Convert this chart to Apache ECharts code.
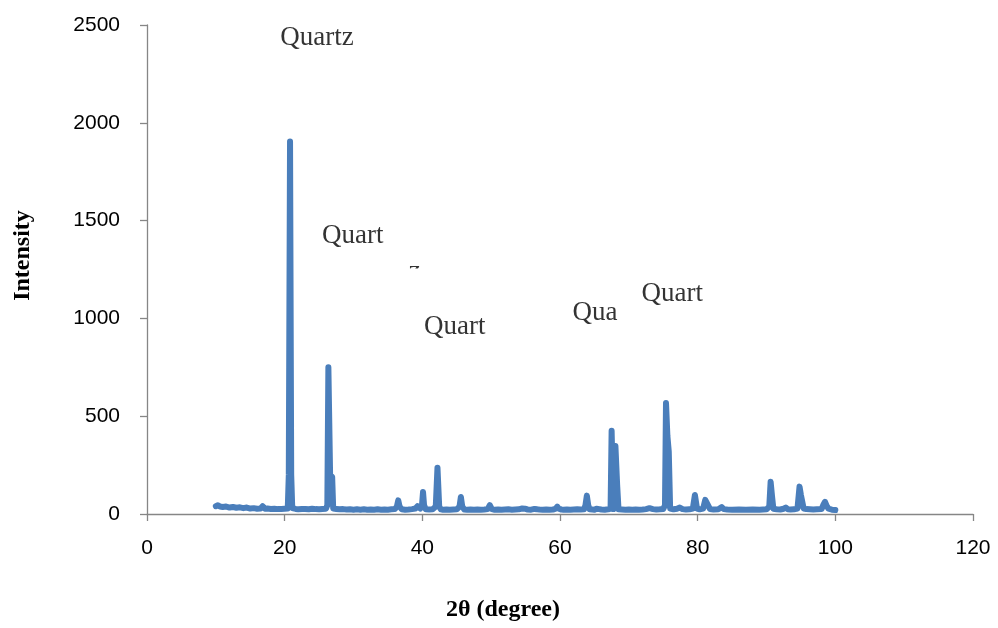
<!DOCTYPE html>
<html>
<head>
<meta charset="utf-8">
<style>
html,body{margin:0;padding:0;background:#fff;}
#chart{width:998px;height:628px;}
</style>
<script src="https://cdn.jsdelivr.net/npm/echarts@6/dist/echarts.min.js"></script>
</head>
<body>
<div id="chart"></div>
<script>
// 2θ positions (degree)
var twoTheta = [
10.0,10.3,10.6,11.0,11.5,12.0,12.5,13.0,13.5,14.0,14.5,15.0,15.5,16.0,16.5,16.8,17.1,17.5,18.0,18.5,19.0,19.5,20.0,
20.45,20.6,20.78,20.95,21.1,21.6,22.0,22.5,23.0,23.5,24.0,24.5,25.0,25.5,26.0,
26.2,26.35,26.6,26.9,27.05,27.5,28.0,28.5,29.0,29.5,30.0,30.5,31.0,31.5,32.0,32.5,33.0,33.5,34.0,34.5,35.0,35.5,36.0,
36.3,36.5,36.7,37.0,37.5,38.0,38.5,39.0,39.3,39.5,39.7,39.95,40.1,40.25,40.5,41.0,41.5,41.95,42.2,42.45,42.7,43.0,43.5,44.0,44.5,45.0,
45.4,45.6,45.8,46.1,46.5,47.0,47.5,48.0,48.5,49.0,49.5,49.8,50.1,50.5,51.0,51.5,52.0,52.5,53.0,53.5,54.0,54.5,54.7,54.9,55.3,55.8,56.3,56.7,
57.0,57.5,58.0,58.5,59.0,59.4,59.6,59.8,60.2,60.5,61.0,61.5,62.0,62.5,63.0,63.5,63.7,63.9,64.1,64.3,64.7,65.0,65.3,65.5,65.7,66.0,66.5,67.0,
67.35,67.5,67.75,68.05,68.3,68.5,69.0,69.5,70.0,70.5,71.0,71.5,72.0,72.5,73.0,73.2,73.5,74.0,74.5,75.0,75.25,75.4,75.6,75.8,76.0,76.5,77.0,
77.4,77.8,78.3,78.8,79.3,79.6,79.9,80.3,80.8,81.1,81.3,81.5,81.8,82.3,83.0,83.5,83.8,84.3,85.0,86.0,87.0,88.0,89.0,90.0,90.4,90.6,90.8,91.0,
91.5,92.0,92.5,92.8,93.1,93.5,94.0,94.5,94.8,95.0,95.2,95.4,95.8,96.3,96.8,97.3,98.0,98.3,98.5,98.7,99.0,99.5,100.0
];
// Intensity values
var intensity = [
40,45,38,36,38,33,36,32,34,30,33,28,30,27,28,40,27,28,26,27,25,26,27,
28,200,1905,200,30,26,24,25,26,24,27,25,24,26,27,
45,750,200,190,28,26,24,25,23,24,22,24,22,24,22,23,22,24,22,23,22,24,25,
38,70,38,24,22,23,25,28,40,42,28,45,112,45,24,23,24,38,237,38,24,22,23,22,23,24,
38,87,38,23,22,23,22,23,22,23,25,45,25,22,23,22,23,24,22,23,24,28,33,27,23,22,26,24,
23,22,23,22,23,27,38,27,23,22,23,22,23,24,23,24,45,94,45,24,23,22,27,33,25,23,22,24,
28,425,25,348,150,24,23,22,23,22,23,22,23,25,30,33,25,23,24,26,45,567,400,320,28,24,27,
33,25,23,24,28,97,28,24,28,72,82,45,25,23,24,35,25,23,22,23,22,23,22,24,38,165,92,27,
24,23,27,33,24,23,24,28,140,97,92,28,25,24,23,24,25,50,62,45,27,22,20
];
// Annotations
var noteTexts = ['Quartz','Quart','Quart','Qua','Quart','z'];
var noteX = [24.7, 29.9, 44.7, 65.1, 76.3, 38.9];
var noteY = [2434, 1421, 956, 1028, 1125, 1240];
var xTicks = [0, 20, 40, 60, 80, 100, 120];
var yTicks = [0, 500, 1000, 1500, 2000, 2500];

var lineData = twoTheta.map(function (x, i) { return [x, intensity[i]]; });
var noteData = noteX.map(function (x, i) { return { value: [x, noteY[i]], name: noteTexts[i] }; });

var chart = echarts.init(document.getElementById('chart'), null, { renderer: 'canvas' });
var axisLineStyle = { color: '#868686', width: 1.3 };
chart.setOption({
  animation: false,
  backgroundColor: '#ffffff',
  grid: { left: 147, right: 25, top: 25, bottom: 114, containLabel: false },
  xAxis: {
    type: 'value', min: xTicks[0], max: xTicks[xTicks.length - 1], interval: 20,
    name: '2θ (degree)', nameLocation: 'middle', nameGap: 84,
    nameTextStyle: { fontFamily: 'Liberation Serif', fontWeight: 'bold', fontSize: 24, color: '#000',
      verticalAlign: 'top', padding: [0, 114, 0, 0] },
    axisLine: { show: true, onZero: false, lineStyle: axisLineStyle },
    axisTick: { show: true, inside: false, length: 7, lineStyle: axisLineStyle },
    splitLine: { show: false },
    axisLabel: { margin: 24, fontFamily: 'Liberation Sans', fontSize: 21, color: '#000',
      formatter: function (v) { return String(v); } }
  },
  yAxis: {
    type: 'value', min: yTicks[0], max: yTicks[yTicks.length - 1], interval: 500,
    name: 'Intensity', nameLocation: 'middle', nameGap: 112, nameRotate: 90,
    nameTextStyle: { fontFamily: 'Liberation Serif', fontWeight: 'bold', fontSize: 24, color: '#000',
      padding: [0, 0, 0, 28] },
    axisLine: { show: true, lineStyle: axisLineStyle },
    axisTick: { show: true, inside: false, length: 7, lineStyle: axisLineStyle },
    splitLine: { show: false },
    axisLabel: { margin: 27, fontFamily: 'Liberation Sans', fontSize: 21, color: '#000',
      formatter: function (v) { return String(v); } }
  },
  series: [
    {
      type: 'line', data: lineData, showSymbol: false, symbol: 'none', smooth: false,
      lineStyle: { color: '#4a7ebb', width: 6, cap: 'round', join: 'round' },
      z: 2
    },
    {
      type: 'scatter', data: noteData, symbolSize: 0, silent: true, z: 3,
      label: {
        show: true, position: 'inside', formatter: '{b}',
        fontFamily: 'Liberation Serif', fontSize: 27, color: '#000'
      }
    }
  ]
});

// mask hiding the lower part of the clipped "z" label
var zPos = chart.convertToPixel({ gridIndex: 0 }, [noteX[5], noteY[5]]);
chart.setOption({
  graphic: [{
    type: 'rect', z: 100,
    shape: { x: zPos[0] - 12, y: zPos[1] - 3, width: 24, height: 20 },
    style: { fill: '#ffffff' }
  }]
});
</script>
</body>
</html>
